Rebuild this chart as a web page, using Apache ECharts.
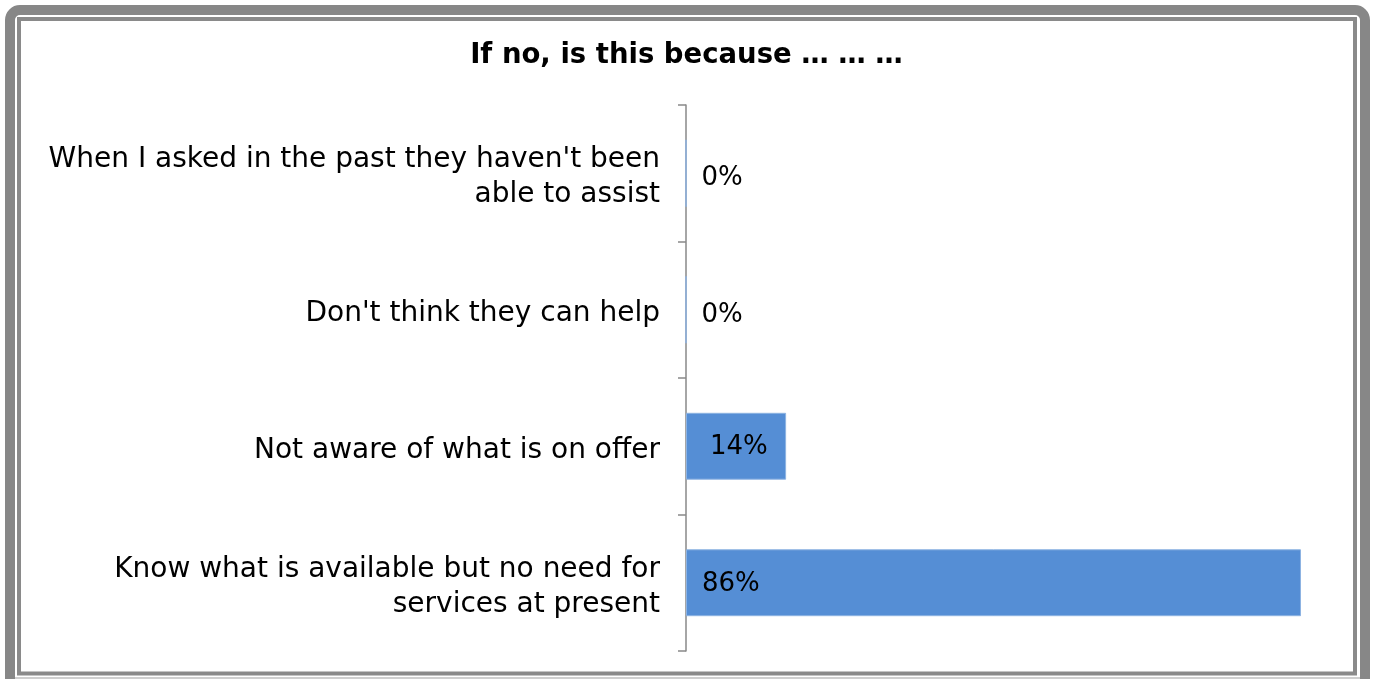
<!DOCTYPE html>
<html>
<head>
<meta charset="utf-8">
<script src="https://cdn.jsdelivr.net/npm/echarts@6/dist/echarts.min.js"></script>
<style>
  html, body { margin: 0; padding: 0; background: #ffffff; }
  #chart { width: 1373px; height: 679px; }
</style>
</head>
<body>
<div id="chart"></div>
<script>
// Survey answers, listed top to bottom
const categories = [
  "When I asked in the past they haven't been\nable to assist",
  "Don't think they can help",
  "Not aware of what is on offer",
  "Know what is available but no need for\nservices at present"
];
const percentValues = [0, 0, 14, 86];
const titleText = 'If no, is this because \u2026 \u2026 \u2026';

const FONT = '"DejaVu Sans", sans-serif';

const chart = echarts.init(document.getElementById('chart'), null, { renderer: 'canvas' });

// label placement per bar: empty bars keep their label a touch lower,
// the short bar's label sits a little further in from the axis
const barData = percentValues.map(v => ({
  value: v,
  label: {
    distance: (v > 0 && v < 50) ? 24 : 16,
    offset: [0, v === 0 ? 5 : 1]
  }
}));

chart.setOption({
  animation: false,
  backgroundColor: '#ffffff',
  title: {
    text: titleText,
    left: 'center',
    top: 37,
    textStyle: { fontFamily: FONT, fontSize: 27.5, fontWeight: 'bold', color: '#000000' }
  },
  graphic: [
    // heavy outer frame, rounded at the top
    { type: 'rect', silent: true, z: 10,
      shape: { x: 10, y: 10, width: 1355, height: 740, r: [10, 10, 0, 0] },
      style: { fill: 'none', stroke: '#878787', lineWidth: 10 } },
    // thin inner frame
    { type: 'rect', silent: true, z: 10,
      shape: { x: 19, y: 19, width: 1336, height: 654.5 },
      style: { fill: 'none', stroke: '#8a8a8a', lineWidth: 4 } },
    { type: 'line', silent: true, z: 10,
      shape: { x1: 15, y1: 678, x2: 1360, y2: 678 },
      style: { stroke: '#cfcfcf', lineWidth: 2 } }
  ],
  grid: {
    left: 686,
    top: 105,
    width: 643.6,
    height: 546,
    containLabel: false
  },
  xAxis: {
    type: 'value',
    min: 0,
    max: 90,
    show: false
  },
  yAxis: {
    type: 'category',
    inverse: true,
    data: categories,
    axisLine: { show: true, lineStyle: { color: '#898989', width: 1.5 } },
    axisTick: { show: true, length: 8, lineStyle: { color: '#898989', width: 1.5 } },
    axisLabel: {
      margin: 26,
      color: '#000000',
      align: 'right',
      // each line wrapped in a rich token so the block can be nudged down a little
      formatter: v => v.split('\n').map(s => '{c|' + s + '}').join('\n'),
      rich: {
        c: {
          fontFamily: FONT,
          fontSize: 28,
          lineHeight: 35,
          color: '#000000',
          padding: [8, 0, 0, 0]
        }
      }
    },
    splitLine: { show: false }
  },
  series: [{
    type: 'bar',
    data: barData,
    barCategoryGap: '51%',
    itemStyle: { color: '#558ed5', borderColor: '#8db3e2', borderWidth: 1 },
    label: {
      show: true,
      position: 'insideLeft',
      formatter: p => p.value + '%',
      fontFamily: FONT,
      fontSize: 26,
      color: '#000000'
    }
  }]
});
</script>
</body>
</html>
